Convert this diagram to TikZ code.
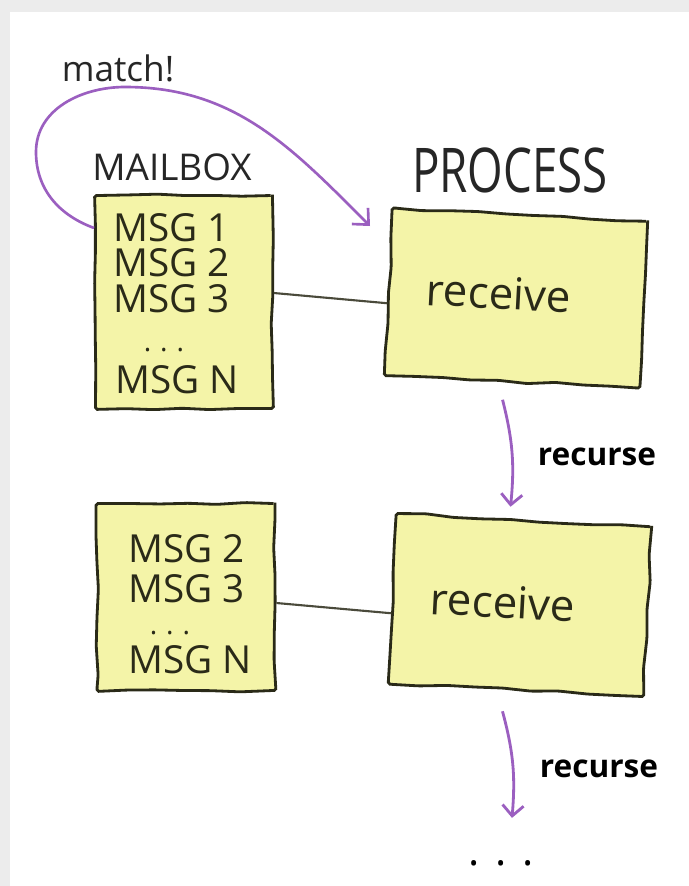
\documentclass[tikz,border=0pt]{standalone}
\usepackage{fontspec}
\setmainfont{Open Sans}
\usepackage{graphicx}
\usepackage{xcolor}
\usetikzlibrary{arrows.meta}
\usetikzlibrary{positioning,decorations.pathmorphing}
\definecolor{stickyyellow}{HTML}{F4F4A8}
\definecolor{matchpurple}{HTML}{9B5FC0}
\definecolor{penink}{HTML}{2A2A18}
\definecolor{pagegray}{HTML}{ECECEC}

\begin{document}
\begin{tikzpicture}[x=0.02cm,y=0.02cm]
  % Define styles for boxes, texts and arrows
  \tikzset{
    sticky/.style={
      draw=penink,
      fill=stickyyellow,
      line width=1.6pt,
      rectangle,
      inner sep=0pt,
      rounded corners=1pt,
      decorate,
      decoration={random steps, segment length=16pt, amplitude=0.8pt}
    },
    msg/.style={
      anchor=west,
      inner sep=0pt,
      text=penink,
      font=\fontsize{22}{22}\selectfont
    },
    msgdots/.style={
      inner sep=0pt,
      text=penink,
      font=\fontsize{16}{16}\selectfont
    },
    title/.style={
      inner sep=0pt,
      text=black!85
    },
    recvtext/.style={
      inner sep=0pt,
      rotate=-3,
      text=penink,
      font=\fontsize{25}{25}\selectfont
    },
    steplabel/.style={
      inner sep=0pt,
      text=black,
      font=\fontsize{18}{18}\selectfont\bfseries
    },
    link/.style={
      draw=penink!85,
      line width=1.2pt
    },
    recarrow/.style={
      draw=matchpurple,
      line width=1.6pt,
      -{Straight Barb[length=6pt, width=12pt]}
    },
    matcharrow/.style={
      draw=matchpurple,
      line width=1.5pt,
      -{Straight Barb[length=7pt, width=13pt]}
    }
  }

  % Page with light frame
  \useasboundingbox (0,0) rectangle (689,-886);
  \fill[pagegray] (0,0) rectangle (689,-886);
  \fill[white] (10,-12) rectangle (689,-886);

  % Headings
  \node[title, font=\fontsize{20}{20}\selectfont] (matchlbl) at (118,-68) {match!};
  \node[title, font=\fontsize{21}{21}\selectfont] (mailboxlbl) at (172,-167) {MAILBOX};
  \node[title, font=\fontsize{26}{26}\selectfont] (processlbl) at (510,-170) {\scalebox{1}[1.35]{PROCESS}};

  % First mailbox and process
  \node[sticky, minimum width=3.54cm, minimum height=4.26cm] (mb1) at (184,-302) {};
  \node[sticky, minimum width=5.1cm, minimum height=3.34cm, rotate=-3] (proc1) at (516,-298) {};
  \node[msg] (msgA1) at (113,-228) {MSG 1};
  \node[msg] (msgA2) at (113,-263) {MSG 2};
  \node[msg] (msgA3) at (113,-299) {MSG 3};
  \node[msgdots] (dotsA) at (164,-350) {.\kern5pt.\kern5pt.};
  \node[msg] (msgAN) at (115,-380) {MSG N};
  \node[recvtext] (recv1) at (499,-293) {receive};

  % Second mailbox and process
  \node[sticky, minimum width=3.56cm, minimum height=3.74cm] (mb2) at (186,-597) {};
  \node[sticky, minimum width=5.1cm, minimum height=3.4cm, rotate=-3] (proc2) at (520,-605) {};
  \node[msg] (msgB2) at (128,-549) {MSG 2};
  \node[msg] (msgB3) at (128,-589) {MSG 3};
  \node[msgdots] (dotsB) at (170,-633) {.\kern5pt.\kern5pt.};
  \node[msg] (msgBN) at (128,-660) {MSG N};
  \node[recvtext] (recv2) at (503,-602) {receive};

  % Recursion labels and the open end
  \node[steplabel] (rec1lbl) at (597,-457) {recurse};
  \node[steplabel] (rec2lbl) at (599,-769) {recurse};
  \node[inner sep=0pt, font=\fontsize{24}{24}\selectfont] (enddots) at (501,-863) {.\kern9pt.\kern9pt.};

  % Connect mailboxes to processes
  \draw[link] ([shift={(0,9)}]mb1.east) -- ([shift={(0,-12)}]proc1.west);
  \draw[link] ([shift={(0,-6)}]mb2.east) -- ([shift={(0,-15)}]proc2.west);

  % Matching message goes to the process
  \coordinate (hit) at (370,-226);
  \draw[matcharrow] (mb1.west |- msgA1.west) to[out=160, in=-90] (36,-152)
    to[out=90, in=180] (125,-87) to[out=0, in=135] (hit);

  % Recurse arrows
  \draw[recarrow] ([shift={(-9,-17)}]proc1.south) to[bend left=10] ([shift={(-14,12)}]proc2.north);
  \draw[recarrow] ([shift={(-13,-20)}]proc2.south) to[bend left=10] ([shift={(11,42)}]enddots.north);
\end{tikzpicture}
\end{document}
